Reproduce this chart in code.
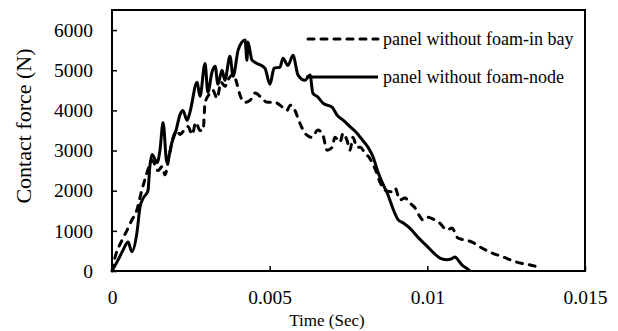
<!DOCTYPE html>
<html>
<head>
<meta charset="utf-8">
<script src="https://cdn.jsdelivr.net/npm/d3@7"></script>
<style>
  body { margin: 0; background: #fff; }
  #svg-container { width: 618px; height: 331px; }
</style>
</head>
<body>
<div id="svg-container"></div>
<script>
////////////////////////////////////////////////////////////////////
////////////////////////////  Data  ////////////////////////////////
// panel without foam-in bay (dashed)
const bayTime = [0, 0.0001, 0.00032, 0.00048, 0.00063, 0.00079, 0.00089, 0.00101, 0.00111, 0.00117,
  0.00127, 0.00136, 0.00146, 0.00159, 0.00168, 0.00181, 0.00193, 0.00206, 0.00216, 0.00228,
  0.00241, 0.00254, 0.00266, 0.00279, 0.00289, 0.00295, 0.00308, 0.0032, 0.00333, 0.00346,
  0.00358, 0.00371, 0.00384, 0.00393, 0.004, 0.00406, 0.00422, 0.00438, 0.00454, 0.00476,
  0.00492, 0.00517, 0.00533, 0.00555, 0.00565, 0.0058, 0.00596, 0.00612, 0.00634, 0.00653,
  0.00669, 0.00682, 0.00698, 0.00707, 0.00723, 0.00733, 0.00745, 0.00755, 0.00764, 0.00777,
  0.00787, 0.00802, 0.00818, 0.00834, 0.0085, 0.00869, 0.00888, 0.00898, 0.00913, 0.00929,
  0.00945, 0.00961, 0.00977, 0.00986, 0.01002, 0.01024, 0.0104, 0.01062, 0.01078, 0.01097,
  0.01113, 0.01142, 0.01167, 0.01199, 0.0124, 0.01284, 0.01326, 0.01342];
const bayForce = [0, 350, 770, 1020, 1270, 1520, 1840, 2190, 2450, 2590,
  2760, 2650, 2500, 2600, 2400, 2850, 3300, 3500, 3400, 3500,
  3600, 3400, 3700, 3500, 3500, 4180, 4400, 4500, 4300, 4700,
  4600, 4800, 4900, 4750, 4550, 4380, 4200, 4250, 4430, 4300,
  4200, 4200, 4130, 4000, 4130, 4000, 3680, 3430, 3330, 3510,
  3380, 3010, 3080, 3330, 3210, 3430, 3260, 3010, 3330, 3080,
  3080, 2940, 2800, 2550, 2210, 2000, 1970, 2060, 1770, 1820,
  1690, 1570, 1350, 1270, 1340, 1270, 1190, 1020, 1070, 820,
  780, 720, 600, 470, 350, 220, 150, 120];

// panel without foam-node (solid)
const nodeTime = [0, 0.00019, 0.00035, 0.00051, 0.00063, 0.00079, 0.00089, 0.00098, 0.00114, 0.0012,
  0.00127, 0.00143, 0.00152, 0.00162, 0.00174, 0.0019, 0.00203, 0.00216, 0.00225, 0.00238,
  0.00247, 0.0027, 0.00279, 0.00295, 0.00304, 0.00317, 0.00327, 0.00336, 0.00349, 0.00358,
  0.00374, 0.00384, 0.004, 0.00412, 0.00422, 0.00428, 0.00431, 0.00444, 0.0046, 0.00485,
  0.00501, 0.00514, 0.00533, 0.00542, 0.00558, 0.00574, 0.0059, 0.00612, 0.00628, 0.00637,
  0.00653, 0.00669, 0.00698, 0.00714, 0.00733, 0.00761, 0.00777, 0.00787, 0.00812, 0.00828,
  0.00844, 0.0086, 0.00875, 0.00891, 0.00907, 0.00923, 0.0094, 0.00955, 0.00975, 0.00999,
  0.0102, 0.0104, 0.0106, 0.01078, 0.01088, 0.01098, 0.0111, 0.01126, 0.01135];
const nodeForce = [0, 270, 520, 720, 480, 950, 1600, 1800, 2000, 2600,
  2900, 2700, 3000, 3700, 2700, 3200, 3500, 3900, 4000, 3750,
  3950, 4700, 4350, 5170, 4450, 4950, 5100, 4650, 5000, 4750,
  5350, 4850, 5500, 5700, 5750, 5250, 5700, 5250, 5170, 5050,
  4650, 5050, 5080, 5300, 5120, 5370, 4880, 4750, 4880, 4430,
  4330, 4180, 4080, 3880, 3760, 3550, 3430, 3330, 3080, 2840,
  2450, 2150, 1900, 1550, 1280, 1200, 1100, 980, 800, 620,
  450, 320, 280, 310, 350, 270, 150, 60, 0];

const seriesNames = ["panel without foam-in bay", "panel without foam-node"];
const xTicks = [0, 0.005, 0.01, 0.015];
const yTicks = [0, 1000, 2000, 3000, 4000, 5000, 6000];

////////////////////////////////////////////////////////////////////
////////////////////////////  Init  ///////////////////////////////
const width = 618;
const height = 331;
const margin = { top: 10, right: 33, bottom: 60, left: 112 };
const serif = "Liberation Serif, Times New Roman, serif";

const svg = d3
  .select("#svg-container")
  .append("svg")
  .attr("width", width)
  .attr("height", height)
  .attr("font-family", serif);

// scale
const xScale = d3
  .scaleLinear()
  .domain([0, 0.015])
  .range([margin.left, width - margin.right]);
const yScale = d3
  .scaleLinear()
  .domain([0, 6500])
  .range([height - margin.bottom, margin.top]);

// axis
const xAxis = d3
  .axisBottom(xScale)
  .tickValues(xTicks)
  .tickFormat((d) => String(d))
  .tickSize(-5)
  .tickPadding(19);
const yAxis = d3
  .axisLeft(yScale)
  .tickValues(yTicks)
  .tickFormat((d) => String(d))
  .tickSize(-5)
  .tickPadding(19);

svg
  .append("g")
  .attr("class", "x-axis")
  .attr("transform", `translate(0,${height - margin.bottom})`)
  .call(xAxis)
  .attr("font-family", serif)
  .attr("font-size", 19.5)
  .call((g) => g.select(".domain").remove());
svg
  .append("g")
  .attr("class", "y-axis")
  .attr("transform", `translate(${margin.left},0)`)
  .call(yAxis)
  .attr("font-family", serif)
  .attr("font-size", 19.5)
  .call((g) => g.select(".domain").remove());

svg.selectAll(".tick line").attr("stroke", "#000").attr("stroke-width", 1.5);
svg.selectAll(".tick text").attr("fill", "#000");

// frame
svg
  .append("rect")
  .attr("x", margin.left)
  .attr("y", margin.top)
  .attr("width", width - margin.left - margin.right)
  .attr("height", height - margin.top - margin.bottom)
  .attr("fill", "none")
  .attr("stroke", "#000")
  .attr("stroke-width", 2);

// axis titles
svg
  .append("text")
  .attr("x", 327)
  .attr("y", 326)
  .attr("text-anchor", "middle")
  .attr("font-size", 17)
  .text("Time (Sec)");
svg
  .append("text")
  .attr("transform", "translate(31,126) rotate(-90)")
  .attr("text-anchor", "middle")
  .attr("font-size", 22)
  .text("Contact force (N)");

////////////////////////////////////////////////////////////////////
////////////////////////////  Lines  ///////////////////////////////
const line = d3
  .line()
  .curve(d3.curveMonotoneX)
  .x((d) => xScale(d[0]))
  .y((d) => yScale(d[1]));

const bayData = bayTime.map((t, i) => [t, bayForce[i]]);
const nodeData = nodeTime.map((t, i) => [t, nodeForce[i]]);

svg
  .append("path")
  .datum(bayData)
  .attr("d", line)
  .attr("fill", "none")
  .attr("stroke", "#000")
  .attr("stroke-width", 3)
  .attr("stroke-linecap", "round")
  .attr("stroke-dasharray", "6,7");

svg
  .append("path")
  .datum(nodeData)
  .attr("d", line)
  .attr("fill", "none")
  .attr("stroke", "#000")
  .attr("stroke-width", 3)
  .attr("stroke-linejoin", "round");

////////////////////////////////////////////////////////////////////
////////////////////////////  Legend  //////////////////////////////
const legend = svg.append("g").attr("class", "legend");
const legendRows = [
  { name: seriesNames[0], y: 39, x0: 308, dash: "6,7" },
  { name: seriesNames[1], y: 77, x0: 306, dash: null },
];

legendRows.forEach((r) => {
  legend
    .append("line")
    .attr("x1", r.x0)
    .attr("x2", 378)
    .attr("y1", r.y)
    .attr("y2", r.y)
    .attr("stroke", "#000")
    .attr("stroke-width", 3)
    .attr("stroke-linecap", r.dash ? "round" : "butt")
    .attr("stroke-dasharray", r.dash);
  legend
    .append("text")
    .attr("x", 383)
    .attr("y", r.y)
    .attr("dy", "0.32em")
    .attr("font-size", 18)
    .text(r.name);
});
</script>
</body>
</html>
